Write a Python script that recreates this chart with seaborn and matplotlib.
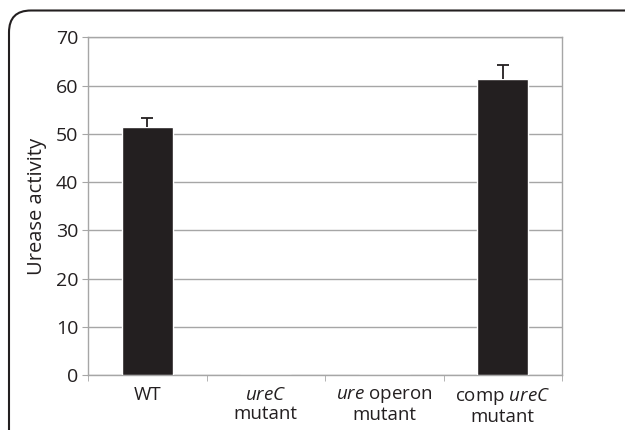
import numpy as np
import pandas as pd
import matplotlib
matplotlib.use("Agg")
import matplotlib.pyplot as plt
import seaborn as sns
from matplotlib.patches import FancyBboxPatch

# Data
strains = ["WT", "ureC mutant", "ure operon mutant", "comp ureC mutant"]
activity = [51.4, 0.0, 0.0, 61.3]
err_up = [1.9, 0.0, 0.0, 3.0]
tick_labels = ["WT", "$\\it{ureC}$\nmutant", "$\\it{ure}$ operon\nmutant",
               "comp $\\it{ureC}$\nmutant"]

sns.set_style("white")
plt.rcParams["font.family"] = ["Open Sans", "DejaVu Sans"]
plt.rcParams["mathtext.fontset"] = "custom"
plt.rcParams["mathtext.rm"] = "Open Sans"
plt.rcParams["mathtext.it"] = "Open Sans:italic"

TEXT = "#231f20"
GRID = "#a6a6a6"

df = pd.DataFrame({"strain": strains, "activity": activity})

fig = plt.figure(figsize=(6.25, 4.3), dpi=100)
ax = fig.add_axes([0.1408, 0.1279, 0.7584, 0.7854])

sns.barplot(data=df, x="strain", y="activity", color=TEXT, saturation=1,
            width=0.43, errorbar=None, ax=ax, zorder=3)

# upper-only error bars, skipped where there is no error
for i, (v, e) in enumerate(zip(activity, err_up)):
    if e > 0:
        ax.vlines(i, v, v + e, color=TEXT, linewidth=1.3, zorder=4)
        ax.hlines(v + e, i - 0.05, i + 0.05, color=TEXT, linewidth=1.3,
                  zorder=4)

ax.set_ylim(0, 70)
ax.set_xlim(-0.5, 3.5)
ax.set_yticks(range(0, 71, 10))
ax.yaxis.grid(True, color=GRID, linewidth=1)
ax.set_axisbelow(True)
for s in ax.spines.values():
    s.set_color(GRID)
    s.set_linewidth(1)
    s.set_visible(True)

ax.set_xticks(range(4))
ax.set_xticklabels(tick_labels, fontsize=13.5, color=TEXT, linespacing=1.05)
ax.set_xticks([-0.5, 0.5, 1.5, 2.5, 3.5], minor=True)
ax.tick_params(axis="x", which="major", length=0, pad=8)
ax.tick_params(axis="x", which="minor", length=4, color=GRID, direction="out",
               bottom=True)
ax.tick_params(axis="y", length=4, color=GRID, direction="out", left=True,
               labelsize=14, labelcolor=TEXT, pad=3)
ax.set_xlabel("")
ax.set_ylabel("Urease activity", fontsize=14.5, color=TEXT, labelpad=6)

# rounded frame running off the right and bottom edges
frame = FancyBboxPatch((9 / 625, -0.2), 1.2, 1.2 - 10.5 / 430,
                       boxstyle="round,pad=0,rounding_size=0.035",
                       transform=fig.transFigure, fill=False,
                       edgecolor=TEXT, linewidth=1.5, clip_on=False,
                       mutation_aspect=625 / 430)
fig.patches.append(frame)

fig.savefig("out.png", dpi=100)
